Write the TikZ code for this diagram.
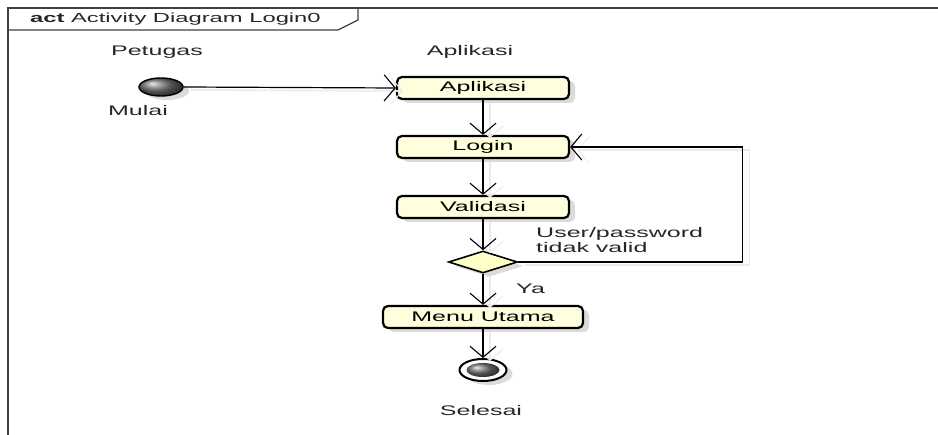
\documentclass[tikz,border=0pt]{standalone}
\usepackage{fontspec}
\setmainfont{Liberation Sans}[FakeStretch=1.8]
\usetikzlibrary{shapes.geometric,arrows.meta,shadows,calc}
\definecolor{actfill}{RGB}{255,255,222}
\definecolor{decfill}{RGB}{255,255,200}
\begin{document}
\begin{tikzpicture}[x=1pt,y=-1pt,
  font=\fontsize{13.9}{16}\selectfont,
  nshadow/.style={drop shadow={shadow xshift=6pt,shadow yshift=-4pt,fill=black!14,opacity=1}},
  actbox/.style={draw=black,line width=2.2pt,rounded corners=5pt,fill=actfill,
     minimum height=22pt,inner sep=0pt,nshadow},
  decbox/.style={diamond,aspect=3.1,draw=black,line width=1.6pt,fill=decfill,
     minimum width=69pt,minimum height=22pt,inner sep=0pt,nshadow},
  flow/.style={draw=black,line width=1.2pt,-{Straight Barb[length=11pt,width=26pt,line width=1.1pt]},
     preaction={draw=black!8,line width=1.6pt,transform canvas={shift={(7pt,-3pt)}}}},
  framel/.style={draw=black!75,line width=1.2pt},
  lbl/.style={inner sep=0pt,text=black!85}
]
\useasboundingbox (0,0) rectangle (938,435);
% frame
\draw[framel] (8,435) -- (8,8) -- (938,8);
\draw[framel] (8,30) -- (338,30) -- (358,20) -- (358,8);
\node[lbl,anchor=west,font=\fontsize{13.2}{15}\selectfont] (title) at (30,19) {\textbf{act} Activity Diagram Login0};
% partition labels
\node[lbl] (petugas) at (157,52) {Petugas};
\node[lbl] (aplab) at (470,52) {Aplikasi};
% initial node
\node[ellipse,minimum width=44pt,minimum height=18pt,inner sep=0pt,ball color=black!55,
      draw=black,line width=1.4pt,nshadow] (start) at (161,87) {};
\node[lbl] (mulai) at (138,111) {Mulai};
% actions
\node[actbox,minimum width=172pt] (aplikasi) at (483,88) {Aplikasi};
\node[actbox,minimum width=172pt] (login) at (483,147) {Login};
\node[actbox,minimum width=172pt] (validasi) at (483,207) {Validasi};
\node[decbox] (dec) at (483,262) {};
\node[actbox,minimum width=200pt] (menu) at (483,317) {Menu Utama};
% final node
\node[ellipse,draw=black,line width=2pt,fill=white,minimum width=47pt,minimum height=22pt,
      inner sep=0pt,nshadow] (end) at (483,370) {};
\node[ellipse,ball color=black!55,minimum width=33pt,minimum height=14pt,inner sep=0pt] (endin) at (end.center) {};
\node[lbl] (selesai) at (481,411) {Selesai};
% labels
\node[lbl,anchor=north west,align=left,font=\fontsize{13.9}{15.5}\selectfont] (guard) at (536,227) {User/password\\tidak valid};
\node[lbl,anchor=west] (ya) at (516,289) {Ya};
% connectors
\draw[flow] (start.east) -- (aplikasi.west);
\draw[flow] (aplikasi.south) -- (login.north);
\draw[flow] (login.south) -- (validasi.north);
\draw[flow] (validasi.south) -- (dec.north);
\draw[flow] (dec.south) -- (menu.north);
\draw[flow] (menu.south) -- (end.north);
\draw[flow] (dec.east) -- ++(224,0) |- (login.east);
\end{tikzpicture}
\end{document}
